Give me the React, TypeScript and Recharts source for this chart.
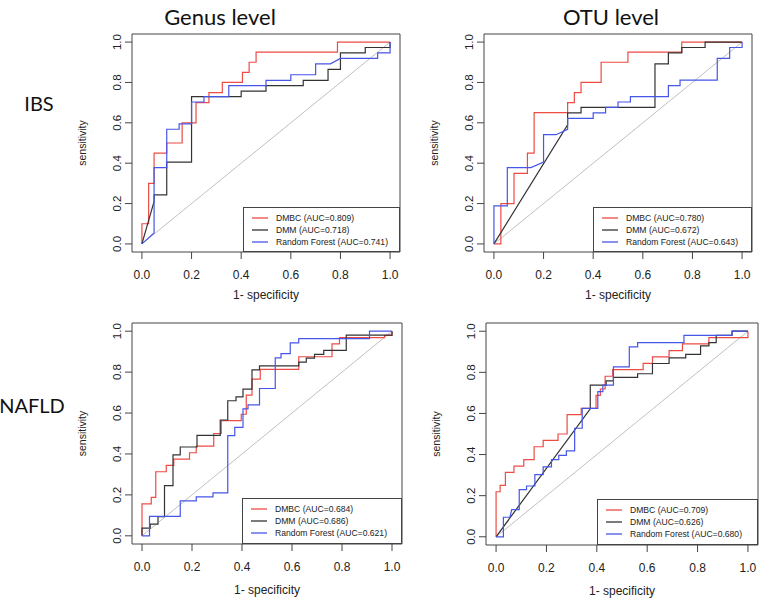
import React from "react";
import {
  LineChart,
  Line,
  XAxis,
  YAxis,
  ReferenceLine,
  ReferenceArea,
  Legend,
} from "recharts";

type Pt = [number, number];

const FONT = "'Liberation Sans', Arial, sans-serif";
const TITLE_FONT = "Lato, 'Open Sans', sans-serif";

const seriesNames = ["DMBC", "DMM", "Random Forest"];
const seriesColors = ["#ee4b45", "#333333", "#4656e6"];
const axisTicks = [0, 0.2, 0.4, 0.6, 0.8, 1];
const columnTitles = ["Genus level", "OTU level"];
const rowTitles = ["IBS", "NAFLD"];

// AUC values printed in the legends
const genusIbsAuc = ["0.809", "0.718", "0.741"];
const otuIbsAuc = ["0.780", "0.672", "0.643"];
const genusNafldAuc = ["0.684", "0.686", "0.621"];
const otuNafldAuc = ["0.709", "0.626", "0.680"];

// ROC curves: [1 - specificity, sensitivity]
const genusIbsDmbc: Pt[] = [
  [0, 0], [0, 0.1], [0.027, 0.1], [0.027, 0.3], [0.049, 0.3], [0.049, 0.45],
  [0.1, 0.45], [0.1, 0.5], [0.162, 0.5], [0.162, 0.6], [0.218, 0.6], [0.218, 0.7],
  [0.27, 0.7], [0.27, 0.75], [0.324, 0.75], [0.324, 0.8], [0.405, 0.8], [0.405, 0.85],
  [0.432, 0.85], [0.432, 0.9], [0.46, 0.9], [0.46, 0.95], [0.788, 0.95], [0.788, 1], [1, 1],
];
const genusIbsDmm: Pt[] = [
  [0, 0], [0.049, 0.21], [0.049, 0.243], [0.1, 0.243], [0.1, 0.405], [0.2, 0.405],
  [0.2, 0.73], [0.4, 0.73], [0.4, 0.757], [0.5, 0.757], [0.5, 0.784], [0.65, 0.784],
  [0.65, 0.81], [0.75, 0.81], [0.75, 0.865], [0.8, 0.865], [0.8, 0.946], [0.9, 0.946],
  [0.9, 0.973], [1, 0.973], [1, 1],
];
const genusIbsRf: Pt[] = [
  [0, 0], [0.049, 0.054], [0.049, 0.378], [0.1, 0.378], [0.1, 0.568], [0.15, 0.568],
  [0.15, 0.595], [0.2, 0.595], [0.2, 0.703], [0.25, 0.703], [0.25, 0.73], [0.35, 0.73],
  [0.35, 0.784], [0.5, 0.784], [0.5, 0.81], [0.6, 0.81], [0.6, 0.838], [0.7, 0.838],
  [0.7, 0.892], [0.76, 0.892], [0.8, 0.919], [0.95, 0.919], [0.95, 0.946], [1, 0.946], [1, 1],
];

const otuIbsDmbc: Pt[] = [
  [0, 0], [0.028, 0], [0.028, 0.2], [0.081, 0.2], [0.081, 0.35], [0.135, 0.35],
  [0.135, 0.45], [0.162, 0.45], [0.162, 0.65], [0.297, 0.65], [0.297, 0.7], [0.324, 0.7],
  [0.324, 0.75], [0.351, 0.75], [0.351, 0.8], [0.432, 0.8], [0.432, 0.9], [0.54, 0.9],
  [0.54, 0.95], [0.757, 0.95], [0.757, 1], [1, 1],
];
const otuIbsDmm: Pt[] = [
  [0, 0], [0.297, 0.59], [0.297, 0.649], [0.351, 0.649], [0.351, 0.676], [0.649, 0.676],
  [0.649, 0.892], [0.703, 0.892], [0.703, 0.946], [0.757, 0.946], [0.757, 0.973],
  [0.851, 0.973], [0.851, 1], [1, 1],
];
const otuIbsRf: Pt[] = [
  [0, 0], [0, 0.189], [0.054, 0.189], [0.054, 0.378], [0.149, 0.378], [0.2, 0.405],
  [0.2, 0.541], [0.25, 0.541], [0.297, 0.568], [0.297, 0.622], [0.4, 0.622], [0.4, 0.649],
  [0.45, 0.649], [0.45, 0.676], [0.5, 0.676], [0.5, 0.703], [0.55, 0.703], [0.55, 0.73],
  [0.703, 0.73], [0.703, 0.784], [0.75, 0.784], [0.75, 0.811], [0.9, 0.811], [0.9, 0.919],
  [0.95, 0.919], [0.95, 0.973], [1, 0.973], [1, 1],
];

const genusNafldDmbc: Pt[] = [
  [0, 0], [0, 0.156], [0.037, 0.156], [0.037, 0.188], [0.055, 0.188], [0.055, 0.313],
  [0.097, 0.313], [0.097, 0.344], [0.127, 0.344], [0.127, 0.375], [0.19, 0.375],
  [0.19, 0.406], [0.217, 0.406], [0.217, 0.438], [0.287, 0.438], [0.287, 0.5],
  [0.317, 0.5], [0.317, 0.563], [0.397, 0.563], [0.397, 0.594], [0.417, 0.594],
  [0.417, 0.688], [0.44, 0.688], [0.44, 0.766], [0.473, 0.766], [0.473, 0.813],
  [0.627, 0.813], [0.627, 0.875], [0.76, 0.875], [0.76, 0.938], [0.79, 0.938],
  [0.79, 0.969], [0.97, 0.969], [0.97, 0.98], [1, 0.98], [1, 1],
];
const genusNafldDmm: Pt[] = [
  [0, 0], [0, 0.038], [0.033, 0.038], [0.033, 0.057], [0.064, 0.057], [0.064, 0.094],
  [0.09, 0.094], [0.09, 0.245], [0.124, 0.245], [0.124, 0.396], [0.153, 0.396],
  [0.153, 0.434], [0.22, 0.434], [0.22, 0.491], [0.313, 0.491], [0.313, 0.566],
  [0.343, 0.566], [0.343, 0.66], [0.376, 0.66], [0.376, 0.679], [0.404, 0.679],
  [0.404, 0.717], [0.44, 0.717], [0.44, 0.811], [0.47, 0.811], [0.47, 0.83],
  [0.627, 0.83], [0.627, 0.849], [0.657, 0.849], [0.657, 0.868], [0.69, 0.868],
  [0.69, 0.887], [0.727, 0.887], [0.727, 0.906], [0.817, 0.906], [0.817, 0.981],
  [1, 0.981], [1, 1],
];
const genusNafldRf: Pt[] = [
  [0, 0], [0.03, 0], [0.03, 0.095], [0.153, 0.095], [0.153, 0.171], [0.217, 0.171],
  [0.217, 0.19], [0.284, 0.19], [0.284, 0.21], [0.343, 0.21], [0.343, 0.49],
  [0.371, 0.49], [0.371, 0.53], [0.404, 0.53], [0.404, 0.62], [0.424, 0.62],
  [0.424, 0.64], [0.47, 0.64], [0.47, 0.72], [0.533, 0.72], [0.533, 0.87],
  [0.556, 0.87], [0.556, 0.89], [0.593, 0.89], [0.593, 0.943], [0.627, 0.943],
  [0.627, 0.964], [0.91, 0.964], [0.91, 1], [1, 1],
];

const otuNafldDmbc: Pt[] = [
  [0, 0], [0, 0.219], [0.016, 0.219], [0.016, 0.25], [0.037, 0.25], [0.037, 0.313],
  [0.071, 0.313], [0.071, 0.344], [0.11, 0.344], [0.11, 0.375], [0.151, 0.375],
  [0.151, 0.438], [0.187, 0.438], [0.187, 0.469], [0.246, 0.469], [0.246, 0.5],
  [0.282, 0.5], [0.282, 0.594], [0.338, 0.594], [0.338, 0.625], [0.397, 0.625],
  [0.397, 0.688], [0.414, 0.688], [0.414, 0.719], [0.433, 0.719], [0.433, 0.781],
  [0.463, 0.781], [0.463, 0.813], [0.584, 0.813], [0.584, 0.844], [0.621, 0.844],
  [0.621, 0.875], [0.687, 0.875], [0.687, 0.906], [0.74, 0.906], [0.74, 0.938],
  [0.845, 0.938], [0.845, 0.969], [1, 0.969], [1, 1],
];
const otuNafldDmm: Pt[] = [
  [0, 0], [0.374, 0.622], [0.374, 0.738], [0.437, 0.738], [0.437, 0.758], [0.466, 0.758],
  [0.466, 0.775], [0.562, 0.775], [0.562, 0.793], [0.621, 0.793], [0.621, 0.843],
  [0.687, 0.843], [0.687, 0.87], [0.753, 0.87], [0.753, 0.887], [0.812, 0.887],
  [0.812, 0.929], [0.845, 0.929], [0.845, 0.945], [0.874, 0.945], [0.874, 0.98],
  [0.937, 0.98], [0.937, 1], [1, 1],
];
const otuNafldRf: Pt[] = [
  [0, 0], [0.029, 0], [0.029, 0.095], [0.055, 0.095], [0.062, 0.132], [0.092, 0.132],
  [0.092, 0.229], [0.121, 0.229], [0.121, 0.247], [0.154, 0.247], [0.154, 0.302],
  [0.187, 0.302], [0.187, 0.34], [0.22, 0.34], [0.22, 0.375], [0.249, 0.375],
  [0.249, 0.396], [0.279, 0.396], [0.279, 0.418], [0.312, 0.418], [0.312, 0.528],
  [0.342, 0.528], [0.342, 0.625], [0.404, 0.625], [0.404, 0.706], [0.424, 0.706],
  [0.424, 0.738], [0.466, 0.738], [0.466, 0.827], [0.529, 0.827], [0.529, 0.924],
  [0.562, 0.924], [0.562, 0.945], [0.746, 0.945], [0.746, 0.98], [0.937, 0.98],
  [0.937, 1], [1, 1],
];

function RotTick(props: any) {
  const { x, y, payload } = props;
  return (
    <text
      x={x}
      y={y}
      transform={`rotate(-90 ${x} ${y})`}
      textAnchor="middle"
      fontSize={11.5}
      fill="#222"
      fontFamily={FONT}
    >
      {Number(payload.value).toFixed(1)}
    </text>
  );
}

// legend drawn from our own name/colour arrays so every panel gets the same order
function LegendBox({ aucs }: any) {
  return (
    <div
      style={{
        width: "100%",
        height: "100%",
        boxSizing: "border-box",
        border: "1px solid #444",
        paddingTop: 4,
        fontFamily: FONT,
        fontSize: 8.6,
        color: "#222",
        background: "#fff",
      }}
    >
      {seriesNames.map((name, i) => (
        <div key={name} style={{ display: "flex", alignItems: "center", height: 12, whiteSpace: "nowrap" }}>
          <svg width={16} height={4} style={{ marginLeft: 8, marginRight: 8, display: "block" }}>
            <line x1={0} y1={2} x2={16} y2={2} stroke={seriesColors[i]} strokeWidth={1.3} />
          </svg>
          <span>{`${name} (AUC=${aucs[i]})`}</span>
        </div>
      ))}
    </div>
  );
}

function RocPanel({ box, curves, aucs, labelOffset, legendW, legendH }: any) {
  const pw = box.x1 - box.x0;
  const ph = box.y1 - box.y0;
  return (
    <div style={{ position: "absolute", left: box.x0 - 100, top: box.y0 - 8 }}>
      <LineChart width={pw + 102} height={ph + 68} margin={{ top: 8, right: 2, bottom: 0, left: 0 }}>
        <XAxis
          type="number"
          dataKey="x"
          domain={[-0.04, 1.04]}
          allowDataOverflow
          ticks={axisTicks}
          tickFormatter={(v: number) => v.toFixed(1)}
          axisLine={false}
          tickSize={7}
          tickMargin={11}
          tickLine={{ stroke: "#444" }}
          tick={{ fontSize: 12, fill: "#222", fontFamily: FONT }}
          height={60}
          label={{ value: "1- specificity", position: "insideBottom", offset: labelOffset, fontSize: 12, fill: "#222", fontFamily: FONT }}
        />
        <YAxis
          type="number"
          domain={[-0.04, 1.04]}
          allowDataOverflow
          ticks={axisTicks}
          width={100}
          axisLine={false}
          tickSize={7}
          tickMargin={4}
          tickLine={{ stroke: "#444" }}
          tick={<RotTick />}
          label={{ value: "sensitivity", angle: -90, position: "center", fontSize: 10.5, fill: "#222", fontFamily: FONT }}
        />
        <ReferenceArea x1={-0.04} x2={1.04} y1={-0.04} y2={1.04} fill="#fff" fillOpacity={0} stroke="#444" strokeWidth={1} ifOverflow="visible" />
        <ReferenceLine segment={[{ x: 0, y: 0 }, { x: 1, y: 1 }]} stroke="#c0c0c0" strokeWidth={1} ifOverflow="visible" />
        {curves.map((c: Pt[], i: number) => (
          <Line
            key={i}
            data={c.map(([x, y]) => ({ x, y }))}
            dataKey="y"
            name={`${seriesNames[i]} (AUC=${aucs[i]})`}
            stroke={seriesColors[i]}
            strokeWidth={1.2}
            type="linear"
            dot={false}
            activeDot={false}
            isAnimationActive={false}
          />
        ))}
        <Legend
          layout="horizontal"
          verticalAlign="middle"
          align="center"
          wrapperStyle={{ left: 100 + pw - legendW, top: 8 + ph - legendH, width: legendW, height: legendH }}
          content={<LegendBox aucs={aucs} />}
        />
      </LineChart>
    </div>
  );
}

export default function App() {
  const label = (text: string, x: number, y: number, size: number) => (
    <div
      style={{
        position: "absolute",
        left: x,
        top: y,
        transform: "translate(-50%, -50%)",
        fontFamily: TITLE_FONT,
        fontSize: size,
        lineHeight: 1,
        whiteSpace: "nowrap",
        color: "#111",
      }}
    >
      {text}
    </div>
  );

  return (
    <div style={{ position: "absolute", left: 0, top: 0, width: 760, height: 598, background: "#fff", overflow: "hidden" }}>
      {label(columnTitles[0], 220, 17, 22)}
      {label(columnTitles[1], 611, 17, 22)}
      {label(rowTitles[0], 39, 103, 20)}
      {label(rowTitles[1], 32, 405, 20)}
      <RocPanel
        box={{ x0: 132, y0: 34, x1: 400, y1: 252 }}
        curves={[genusIbsDmbc, genusIbsDmm, genusIbsRf]}
        aucs={genusIbsAuc}
        labelOffset={13}
        legendW={157}
        legendH={45}
      />
      <RocPanel
        box={{ x0: 484, y0: 34, x1: 752, y1: 252 }}
        curves={[otuIbsDmbc, otuIbsDmm, otuIbsRf]}
        aucs={otuIbsAuc}
        labelOffset={13}
        legendW={159}
        legendH={45}
      />
      <RocPanel
        box={{ x0: 132, y0: 323, x1: 402, y1: 544 }}
        curves={[genusNafldDmbc, genusNafldDmm, genusNafldRf]}
        aucs={genusNafldAuc}
        labelOffset={10}
        legendW={160}
        legendH={46}
      />
      <RocPanel
        box={{ x0: 486, y0: 323, x1: 758, y1: 545 }}
        curves={[otuNafldDmbc, otuNafldDmm, otuNafldRf]}
        aucs={otuNafldAuc}
        labelOffset={10}
        legendW={161}
        legendH={46}
      />
    </div>
  );
}
